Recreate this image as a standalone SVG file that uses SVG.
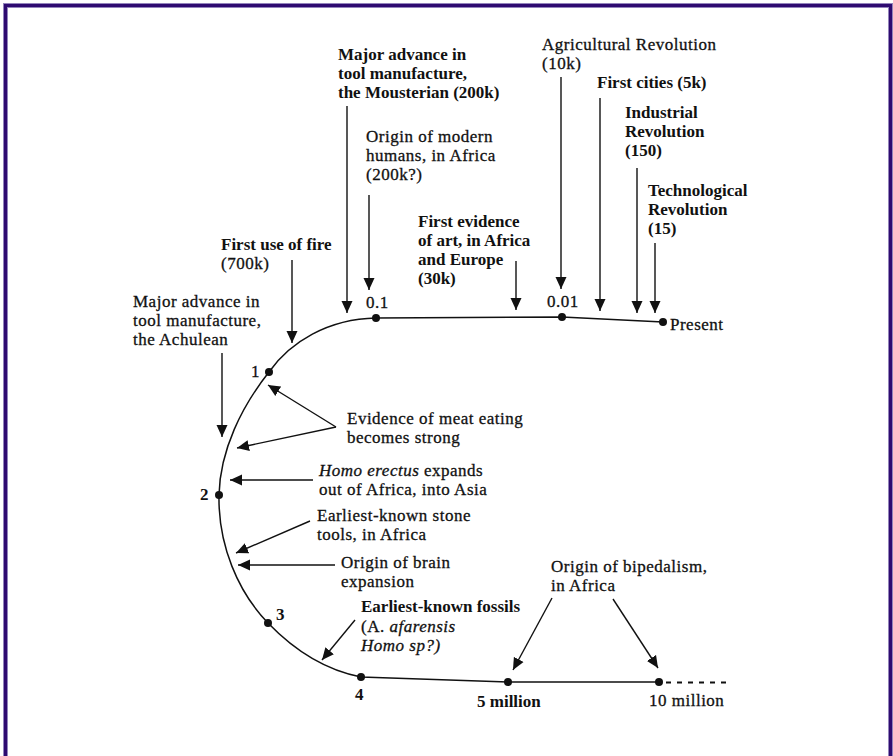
<svg xmlns="http://www.w3.org/2000/svg" width="893" height="756" viewBox="0 0 893 756">
<defs>
<style>
text{font-family:"Liberation Serif","Times New Roman",serif;font-size:17px;fill:#111;}
.r{letter-spacing:0.5px;stroke:#111;stroke-width:0.3;}
.b{font-weight:bold;}
.i{font-style:italic;}
.ln{stroke:#111;stroke-width:1.5;fill:none;}
.arr{stroke:#111;stroke-width:1.4;fill:none;marker-end:url(#ah);}
.dot{fill:#111;}
</style>
<marker id="ah" markerUnits="userSpaceOnUse" markerWidth="13" markerHeight="12" refX="12" refY="6" orient="auto">
<path d="M0,0.5 L12,6 L0,11.5 z" fill="#111"/>
</marker>
</defs>
<rect x="0" y="0" width="893" height="756" fill="#fff"/>
<rect x="5.5" y="5.5" width="885" height="770" fill="none" stroke="#9384bb" stroke-width="5"/>
<rect x="5.5" y="5.5" width="885" height="770" fill="none" stroke="#2e0b70" stroke-width="3"/>

<g id="timeline">
<path class="ln" d="M663,322 L562,317 L376,318 C328,319 290,342 269,372 C242,406 220,450 219,495 C218,545 238,592 268,623 C295,651 325,670 361,677 L508,682 L659,682"/>
<path d="M666,682.5 L726,682.5" stroke="#111" stroke-width="2" stroke-dasharray="5 6"/>
<circle class="dot" cx="663" cy="322" r="4"/>
<circle class="dot" cx="562" cy="317" r="4"/>
<circle class="dot" cx="376" cy="318" r="4"/>
<circle class="dot" cx="269" cy="372" r="4"/>
<circle class="dot" cx="219" cy="495" r="4"/>
<circle class="dot" cx="268" cy="623" r="4"/>
<circle class="dot" cx="361" cy="677" r="4"/>
<circle class="dot" cx="508" cy="682" r="4"/>
<circle class="dot" cx="659" cy="682" r="4"/>
</g>

<g id="connectors">
<line class="arr" x1="347" y1="106" x2="347" y2="313"/>
<line class="arr" x1="369" y1="195" x2="369" y2="290"/>
<line class="arr" x1="292" y1="260" x2="292" y2="343"/>
<line class="arr" x1="516" y1="261" x2="516" y2="310"/>
<line class="arr" x1="561" y1="77" x2="561" y2="289"/>
<line class="arr" x1="600" y1="98" x2="600" y2="311"/>
<line class="arr" x1="637" y1="168" x2="637" y2="313"/>
<line class="arr" x1="655" y1="243" x2="655" y2="313"/>
<line class="arr" x1="222" y1="353" x2="222" y2="437"/>
<line class="arr" x1="336" y1="427" x2="268" y2="385"/>
<line class="arr" x1="336" y1="427" x2="237" y2="448"/>
<line class="arr" x1="313" y1="480" x2="230" y2="480"/>
<line class="arr" x1="310" y1="521" x2="236" y2="553"/>
<line class="arr" x1="335" y1="565" x2="238" y2="565"/>
<line class="arr" x1="355" y1="620" x2="322" y2="660"/>
<line class="arr" x1="552" y1="598" x2="513" y2="670"/>
<line class="arr" x1="613" y1="599" x2="658" y2="668"/>
</g>

<g id="mousterian"><text class="b" x="338" y="60">Major advance in</text><text class="b" x="338" y="79">tool manufacture,</text><text class="b" x="338" y="98">the Mousterian (200k)</text></g>
<g id="modern-humans"><text class="r" x="366" y="142">Origin of modern</text><text class="r" x="366" y="161">humans, in Africa</text><text class="r" x="366" y="180">(200k?)</text></g>
<g id="fire"><text class="b" x="221" y="250">First use of fire</text><text class="r" x="221" y="269">(700k)</text></g>
<g id="art"><text class="b" x="418" y="227">First evidence</text><text class="b" x="418" y="246">of art, in Africa</text><text class="b" x="418" y="265">and Europe</text><text class="b" x="418" y="284">(30k)</text></g>
<g id="achulean"><text class="r" x="133" y="307">Major advance in</text><text class="r" x="133" y="326">tool manufacture,</text><text class="r" x="133" y="345">the Achulean</text></g>
<g id="agricultural"><text class="r" x="542" y="50">Agricultural Revolution</text><text class="r" x="542" y="69">(10k)</text></g>
<g id="cities"><text class="b" x="597" y="88">First cities (5k)</text></g>
<g id="industrial"><text class="b" x="625" y="118">Industrial</text><text class="b" x="625" y="137">Revolution</text><text class="b" x="625" y="156">(150)</text></g>
<g id="technological"><text class="b" x="648" y="196">Technological</text><text class="b" x="648" y="215">Revolution</text><text class="b" x="648" y="234">(15)</text></g>
<g id="present"><text class="r" x="670" y="330">Present</text></g>
<g id="t01"><text class="r" x="366" y="308">0.1</text></g>
<g id="t001"><text class="r" x="547" y="307">0.01</text></g>
<g id="t1"><text class="r" x="251" y="377">1</text></g>
<g id="t2"><text class="b" x="200" y="500">2</text></g>
<g id="t3"><text class="b" x="276" y="620">3</text></g>
<g id="t4"><text class="b" x="355" y="700">4</text></g>
<g id="t5m"><text class="b" x="477" y="707">5 million</text></g>
<g id="t10m"><text class="r" x="649" y="706">10 million</text></g>
<g id="meat"><text class="r" x="347" y="424">Evidence of meat eating</text><text class="r" x="347" y="443">becomes strong</text></g>
<g id="erectus"><text class="r" x="319" y="476"><tspan class="i">Homo erectus</tspan> expands</text><text class="r" x="319" y="495">out of Africa, into Asia</text></g>
<g id="stone-tools"><text class="r" x="317" y="521">Earliest-known stone</text><text class="r" x="317" y="540">tools, in Africa</text></g>
<g id="brain"><text class="r" x="341" y="568">Origin of brain</text><text class="r" x="341" y="587">expansion</text></g>
<g id="fossils"><text class="b" x="361" y="612">Earliest-known fossils</text><text class="r" x="361" y="632">(A. <tspan class="i">afarensis</tspan></text><text class="r i" x="361" y="651">Homo sp?)</text></g>
<g id="bipedalism"><text class="r" x="551" y="572">Origin of bipedalism,</text><text class="r" x="551" y="591">in Africa</text></g>
</svg>
